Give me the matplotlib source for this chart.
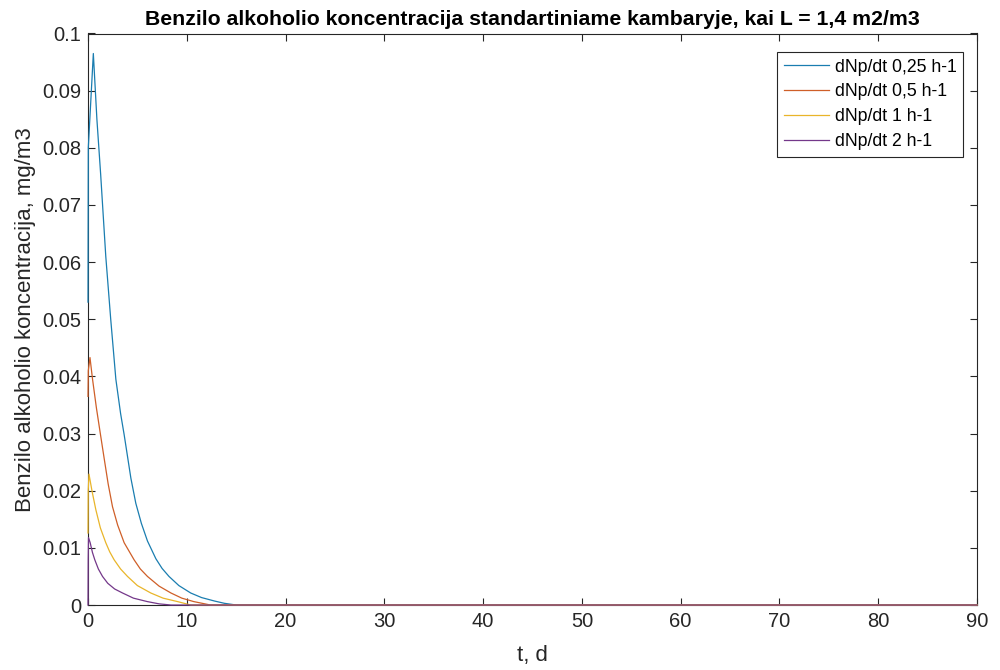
import numpy as np
import matplotlib.pyplot as plt

plt.rcParams['font.family'] = ['Liberation Sans', 'DejaVu Sans']

# t in days, concentration in mg/m3
t_025 = [0, 0.03, 0.54, 0.9, 1.28, 1.8, 2.3, 2.82, 3.3, 3.66, 4.34, 4.84, 5.4, 6.02, 6.87, 7.5, 8.2,
         9.2, 10.4, 11.5, 12.8, 13.8, 15.0, 90]
c_025 = [0.053, 0.080, 0.0965, 0.085, 0.0754, 0.061, 0.050, 0.0395, 0.0335, 0.0298, 0.0222, 0.0178,
         0.0143, 0.0112, 0.0081, 0.0064, 0.0050, 0.0034, 0.0021, 0.0013, 0.0007, 0.0003, 0.0, 0.0]

t_05 = [0, 0.03, 0.2, 0.46, 0.85, 1.23, 1.65, 2.04, 2.48, 3.0, 3.66, 4.67, 5.3, 6.02, 7.2, 8.4, 9.5,
        10.7, 12.4, 90]
c_05 = [0.0365, 0.041, 0.0433, 0.0395, 0.0345, 0.0302, 0.0255, 0.0212, 0.0172, 0.0140, 0.0109, 0.0079,
        0.0063, 0.0050, 0.0033, 0.0021, 0.0012, 0.0006, 0.0, 0.0]

t_1 = [0, 0.02, 0.1, 0.4, 0.79, 1.25, 1.8, 2.2, 2.65, 3.3, 4.0, 5.0, 6.36, 7.6, 9.06, 10.4, 90]
c_1 = [0.0126, 0.020, 0.0229, 0.0200, 0.0167, 0.0135, 0.0109, 0.0093, 0.0079, 0.0063, 0.0050, 0.0034,
       0.0021, 0.0012, 0.0006, 0.0, 0.0]

t_2 = [0, 0.02, 0.05, 0.22, 0.45, 0.69, 1.05, 1.47, 2.0, 2.7, 3.5, 4.6, 6.0, 7.2, 8.4, 90]
c_2 = [0.0, 0.008, 0.0118, 0.0109, 0.0092, 0.0079, 0.0063, 0.0050, 0.0038, 0.0028, 0.0021, 0.0012,
       0.0006, 0.0002, 0.0, 0.0]

labels = ['dNp/dt 0,25 h-1', 'dNp/dt 0,5 h-1', 'dNp/dt 1 h-1', 'dNp/dt 2 h-1']
colors = ['#1a7db0', '#cf5f28', '#e9b52a', '#74388a']

fig = plt.figure(figsize=(10, 6.7), dpi=100)
ax = fig.add_axes([0.088, 0.097, 0.889, 0.853])

series = [(t_025, c_025), (t_05, c_05), (t_1, c_1), (t_2, c_2)]
for (t, c), lab, col in zip(series, labels, colors):
    ax.plot(t, c, color=col, lw=0.9, label=lab, clip_on=False, zorder=3)

ax.set_xlim(0, 90)
ax.set_ylim(0, 0.1)
ax.set_xticks(np.arange(0, 91, 10))
ax.set_yticks(np.arange(0, 0.101, 0.01))
ax.set_yticklabels(['0', '0.01', '0.02', '0.03', '0.04', '0.05', '0.06', '0.07', '0.08', '0.09', '0.1'])

axis_col = '#262626'
for s in ax.spines.values():
    s.set_color(axis_col)
    s.set_linewidth(0.8)
ax.tick_params(direction='in', top=True, right=True, length=5, width=0.8,
               color=axis_col, labelcolor=axis_col, labelsize=14.5, pad=5)

ax.set_xlabel('t, d', fontsize=16, color=axis_col, labelpad=10)
ax.set_ylabel('Benzilo alkoholio koncentracija, mg/m3', fontsize=16, color=axis_col, labelpad=4)
ax.set_title('Benzilo alkoholio koncentracija standartiniame kambaryje, kai L = 1,4 m2/m3',
             fontsize=15.3, fontweight='bold', color='black', pad=6)

leg = ax.legend(loc='upper right', bbox_to_anchor=(0.984, 0.967), borderaxespad=0,
                fontsize=12.7, frameon=True, fancybox=False, framealpha=1,
                handlelength=2.6, handletextpad=0.3, labelspacing=0.45, borderpad=0.35)
leg.get_frame().set_edgecolor(axis_col)
leg.get_frame().set_linewidth(0.8)

fig.savefig('out.png', dpi=100)
